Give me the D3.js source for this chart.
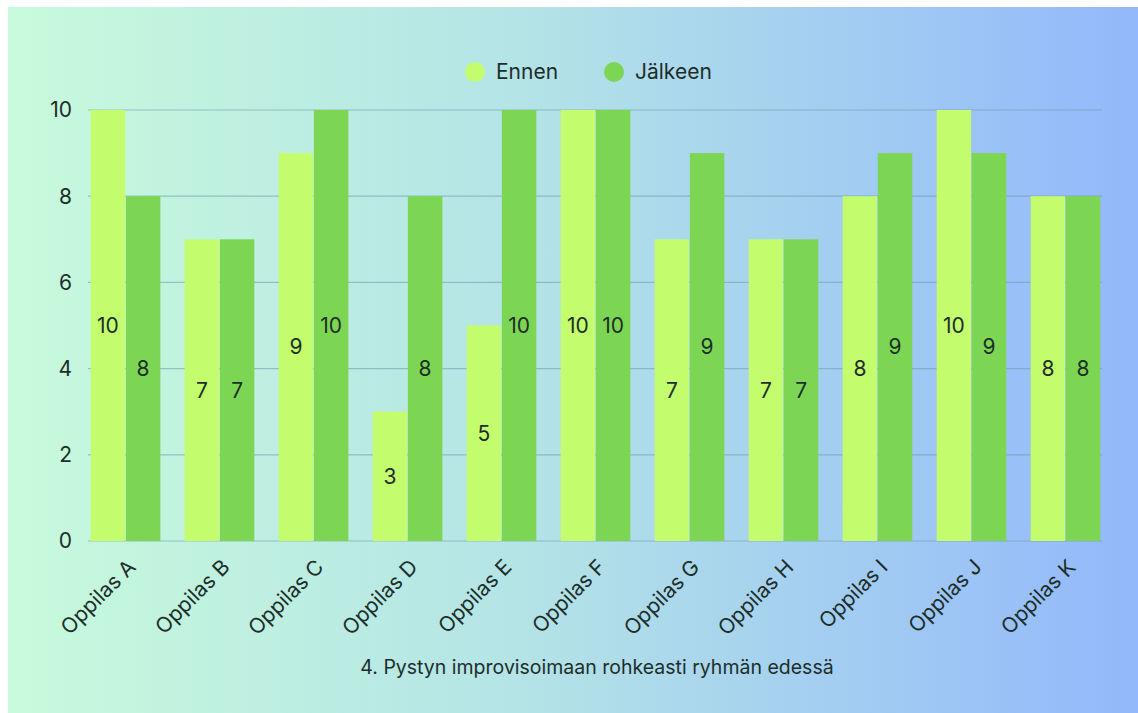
<!DOCTYPE html>
<html><head><meta charset="utf-8">
<script src="https://cdn.jsdelivr.net/npm/d3@7"></script>
<style>html,body{margin:0;padding:0;background:#fff;}svg{display:block;}</style>
</head><body>
<svg id="chart" width="1138" height="713"></svg>
<script>
const categories = ["Oppilas A","Oppilas B","Oppilas C","Oppilas D","Oppilas E","Oppilas F","Oppilas G","Oppilas H","Oppilas I","Oppilas J","Oppilas K"];
const ennen = [10,7,9,3,5,10,7,7,8,10,8];
const jalkeen = [8,7,10,8,10,10,9,7,9,9,8];
const seriesNames = ["Ennen","Jälkeen"];
const seriesColors = ["#c3fc6c","#7dd653"];
const yTicks = [0,2,4,6,8,10];
const title = "4. Pystyn improvisoimaan rohkeasti ryhmän edessä";

const svg = d3.select("#chart");
const defs = svg.append("defs");
const grad = defs.append("linearGradient").attr("id","bg").attr("x1","0%").attr("x2","100%").attr("y1","0%").attr("y2","0%");
grad.append("stop").attr("offset","0%").attr("stop-color","#c8fadc");
grad.append("stop").attr("offset","45%").attr("stop-color","#b4e4e6");
grad.append("stop").attr("offset","100%").attr("stop-color","#93b8fb");
svg.append("rect").attr("x",8).attr("y",7).attr("width",1130).attr("height",706).attr("fill","url(#bg)");

const font = "Inter, 'Open Sans', sans-serif";
const textColor = "#1d2e2a";

const x = d3.scaleBand().domain(categories).range([90,1101]).paddingInner(0.244).paddingOuter(0);
const xs = d3.scaleBand().domain(seriesNames).range([0,x.bandwidth()]).padding(0.02);
const y = d3.scaleLinear().domain([0,10]).range([541,110]);

// grid
svg.append("g").selectAll("line").data(yTicks).join("line")
  .attr("x1",88).attr("x2",1102)
  .attr("y1",d=>y(d)).attr("y2",d=>y(d))
  .attr("stroke","#6f98a8").attr("stroke-opacity",0.55).attr("stroke-width",1.2);

// y labels
svg.append("g").selectAll("text").data(yTicks).join("text")
  .attr("x",72).attr("y",d=>y(d)).attr("dy","0.35em")
  .attr("text-anchor","end").attr("font-family",font).attr("font-size",21)
  .attr("fill",textColor).text(d=>d);

const data = categories.map((c,i)=>({c, vals:[{s:"Ennen",v:ennen[i]},{s:"Jälkeen",v:jalkeen[i]}]}));
const groups = svg.append("g").selectAll("g").data(data).join("g")
  .attr("transform",d=>`translate(${x(d.c)},0)`);
groups.selectAll("rect").data(d=>d.vals).join("rect")
  .attr("x",d=>xs(d.s)).attr("width",xs.bandwidth())
  .attr("y",d=>y(d.v)).attr("height",d=>y(0)-y(d.v))
  .attr("fill",(d,i)=>seriesColors[i]);
groups.selectAll("text").data(d=>d.vals).join("text")
  .attr("x",d=>xs(d.s)+xs.bandwidth()/2).attr("y",d=>y(d.v/2)).attr("dy","0.35em")
  .attr("text-anchor","middle").attr("font-family",font).attr("font-size",21)
  .attr("fill",textColor).text(d=>d.v);

// x labels
svg.append("g").selectAll("text").data(categories).join("text")
  .attr("transform",d=>`translate(${x(d)+x.bandwidth()/2+1},558) rotate(-45)`)
  .attr("text-anchor","end").attr("dy","0.7em")
  .attr("font-family",font).attr("font-size",21).attr("fill",textColor).text(d=>d);

// legend
const legX = [475,614];
const leg = svg.append("g").selectAll("g").data(seriesNames).join("g")
  .attr("transform",(d,i)=>`translate(${legX[i]},72)`);
leg.append("circle").attr("r",10).attr("fill",(d,i)=>seriesColors[i]);
leg.append("text").attr("x",21).attr("dy","0.35em").attr("font-family",font).attr("font-size",21)
  .attr("fill",textColor).text(d=>d);

// title
svg.append("text").attr("x",597).attr("y",667).attr("dy","0.35em").attr("text-anchor","middle")
  .attr("font-family",font).attr("font-size",19.5).attr("fill",textColor).text(title);
</script>
</body></html>
